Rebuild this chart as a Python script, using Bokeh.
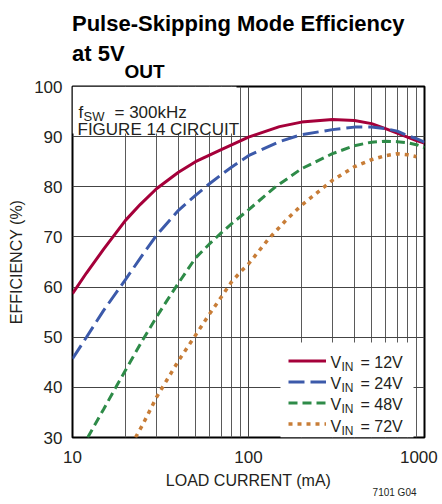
from bokeh.plotting import figure
from bokeh.models import FixedTicker, Label, BoxAnnotation, Legend, LegendItem, Title, Div
from bokeh.layouts import column
from bokeh.embed import file_html
from bokeh.resources import INLINE

# ---------------- data ----------------
load_12 = [10, 12, 15, 20, 24.3, 30, 40, 50, 60, 70, 100, 150, 200, 300, 400, 500, 600, 700, 800, 900, 1000]
eff_12 = [58.7, 62.8, 67.5, 73.3, 76.5, 79.6, 82.9, 85.0, 86.3, 87.4, 89.9, 92.0, 92.9, 93.4, 93.2, 92.6, 91.6, 90.7, 89.9, 89.2, 88.7]

load_24 = [10, 12, 15, 20, 25, 30, 40, 50, 60, 70, 80, 100, 150, 200, 300, 400, 500, 600, 700, 800, 900, 1000]
eff_24 = [45.7, 50.0, 55.3, 61.5, 66.4, 70.3, 75.3, 78.3, 80.6, 82.4, 83.9, 86.2, 89.0, 90.4, 91.4, 91.9, 91.9, 91.6, 91.1, 90.2, 89.6, 88.9]

load_48 = [12.2, 15, 17.5, 20, 25, 30, 35, 40, 50, 60, 70, 80, 100, 140, 200, 300, 400, 500, 600, 700, 800, 900, 1000]
eff_48 = [30.0, 35.6, 39.8, 43.4, 49.4, 54.0, 57.7, 60.8, 65.8, 68.6, 70.8, 72.6, 75.4, 79.8, 83.6, 86.6, 88.2, 88.9, 89.1, 89.0, 88.8, 88.4, 87.8]

load_72 = [22.8, 25, 30, 40, 50, 60, 70, 80, 90, 100, 130, 165, 200, 300, 400, 500, 600, 700, 800, 900]
eff_72 = [30.0, 32.5, 38.0, 45.3, 50.4, 54.6, 58.0, 61.0, 63.0, 64.6, 69.6, 73.5, 76.3, 81.3, 84.0, 85.4, 86.2, 86.6, 86.4, 86.0]

series_names = ["12V", "24V", "48V", "72V"]
x_ticks = [10, 100, 1000]
x_tick_labels = ["10", "100", "1000\u00a0"]
x_minor = [20, 30, 40, 50, 60, 70, 80, 90, 200, 300, 400, 500, 600, 700, 800, 900]
y_ticks = [30, 40, 50, 60, 70, 80, 90, 100]

# ---------------- styling ----------------
FONT = "Liberation Sans"
TXT = "#231f20"
colors = ["#A5003A", "#3C5AAA", "#2E8B48", "#C87D37"]
dashes = ["solid", "16 6", "9 5", "4 5"]
widths = [3, 3, 3, 3.5]

title_html = (
    '<div style="font-family:\'Liberation Sans\',Arial,sans-serif;font-weight:bold;font-size:22px;'
    'line-height:30px;color:#000;padding-left:72px;padding-top:9px;white-space:nowrap;">'
    'Pulse-Skipping Mode Efficiency<br>at 5V'
    '<span style="font-size:19px;position:relative;top:17px;">OUT</span></div>'
)
head = Div(text=title_html, width=442, height=78, margin=0)

p = figure(width=442, height=426, x_axis_type="log", x_range=(10, 1000), y_range=(30, 100),
           output_backend="svg", toolbar_location=None,
           min_border_left=72, min_border_right=18, min_border_top=8, min_border_bottom=67)
p.background_fill_color = "white"
p.border_fill_color = "white"
p.outline_line_color = "black"
p.outline_line_width = 2

p.xaxis.ticker = FixedTicker(ticks=x_ticks, minor_ticks=x_minor)
p.yaxis.ticker = FixedTicker(ticks=y_ticks)
p.xaxis.major_label_overrides = dict(zip(x_ticks, x_tick_labels))
for ax in (p.xaxis[0], p.yaxis[0]):
    ax.axis_line_color = None
    ax.major_tick_line_color = None
    ax.minor_tick_line_color = None
    ax.major_tick_out = 0
    ax.major_tick_in = 0
    ax.minor_tick_out = 0
    ax.minor_tick_in = 0
    ax.major_label_text_font = FONT
    ax.major_label_text_font_size = "17px"
    ax.major_label_text_color = TXT
    ax.axis_label_text_font = FONT
    ax.axis_label_text_font_size = "16px"
    ax.axis_label_text_font_style = "normal"
    ax.axis_label_text_color = TXT
p.xaxis.major_label_standoff = 10
p.yaxis.major_label_standoff = 10
p.xaxis.axis_label = "LOAD CURRENT (mA)"
p.yaxis.axis_label = "EFFICIENCY (%)"
p.xaxis.axis_label_standoff = 2
p.yaxis.axis_label_standoff = 6

p.xgrid.grid_line_color = "#444444"
p.xgrid.minor_grid_line_color = "#5a5a5a"
p.ygrid.grid_line_color = "#444444"

# figure code in the lower right corner
p.add_layout(Title(text="7101 G04", align="right", offset=8, standoff=-10, vertical_align="top",
                   text_font=FONT, text_font_size="10px", text_font_style="normal", text_color=TXT),
             "below")

# white boxes that mask the grid behind the annotation text and the legend
p.add_layout(BoxAnnotation(left=0, right=164, top=351, bottom=304,
                           left_units="screen", right_units="screen", top_units="screen", bottom_units="screen",
                           fill_color="white", fill_alpha=1, line_color=None, level="underlay"))
p.add_layout(BoxAnnotation(left=208, right=341, top=95, bottom=0,
                           left_units="screen", right_units="screen", top_units="screen", bottom_units="screen",
                           fill_color="white", fill_alpha=1, line_color=None, level="underlay"))

renderers = []
for xs, ys, c, d, w in zip([load_12, load_24, load_48, load_72], [eff_12, eff_24, eff_48, eff_72],
                           colors, dashes, widths):
    renderers.append(p.line(xs, ys, line_color=c, line_width=w, line_dash=d))

legend = Legend(items=[LegendItem(label=" ", renderers=[r]) for r in renderers],
                location=(216, 3), margin=0, padding=0, spacing=0,
                glyph_width=38, glyph_height=21, label_height=21, label_width=1, label_standoff=0,
                label_text_font_size="1px", background_fill_alpha=0, border_line_alpha=0)
p.add_layout(legend, "center")


def lab(x, y, text, size, align="left"):
    p.add_layout(Label(x=x, y=y, x_units="screen", y_units="screen", text=text,
                       text_font=FONT, text_font_size=size, text_color=TXT,
                       text_align=align, text_baseline="alphabetic"))


# annotation box (inside the frame)
lab(6, 325, "f", "17px")
lab(11, 321, "SW", "13px")
lab(42, 325, "= 300kHz", "17px")
lab(5, 308, "FIGURE 14 CIRCUIT", "17px")

# legend text
base = [75, 54, 33, 11]
for b, name in zip(base, series_names):
    lab(258, b, "V", "16px")
    lab(269, b - 4, "IN", "12px")
    lab(288, b, "= " + name, "16px")

layout = column(head, p, spacing=0)
open("out.html", "w").write(file_html(layout, INLINE))
